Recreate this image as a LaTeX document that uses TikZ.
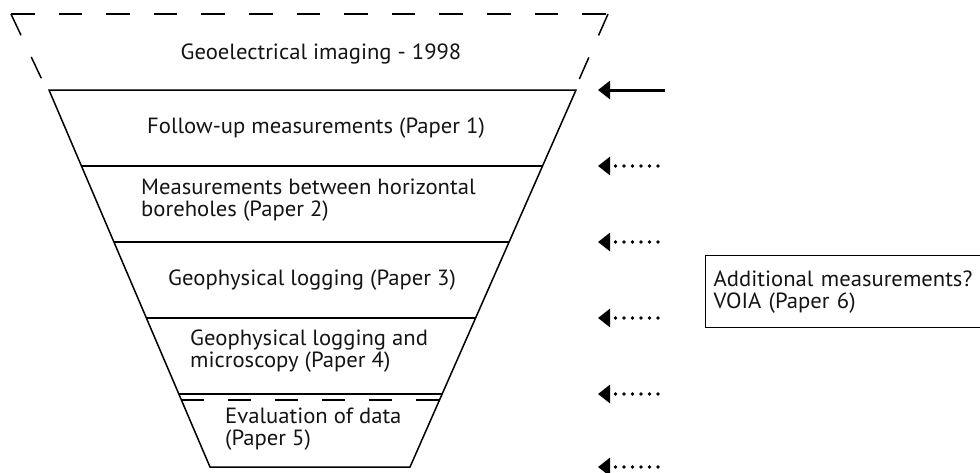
\documentclass[tikz,border=0pt]{standalone}
\usepackage{fontspec}
\setmainfont[FakeStretch=1.03]{PT Sans}
\usetikzlibrary{arrows.meta,calc}
\begin{document}
\begin{tikzpicture}[x=1pt,y=-1pt,
  funnel/.style={line width=1.5pt, draw=black},
  dashedge/.style={line width=1.5pt, draw=black, dash pattern=on 23.5pt off 24pt},
  lbl/.style={inner sep=0pt, font=\fontsize{22}{22.5}\selectfont, align=left, text=black!92},
  solidarrow/.style={line width=3pt, -{Triangle[length=12pt,width=18pt]}},
  dotarrow/.style={line width=3.8pt, line cap=round, dash pattern=on 0pt off 8.5pt, -{Triangle[length=12pt,width=18pt]}},
  framebox/.style={draw=black, line width=1.4pt, inner xsep=8pt, inner ysep=0pt, text width=275pt, align=left, minimum height=72pt, font=\fontsize{22}{22}\selectfont, text=black!92}
]
\useasboundingbox (0,0) rectangle (980,472);
\clip (0,0) rectangle (980,472);

% funnel corners
\coordinate (L0) at (49,90);
\coordinate (R0) at (576,90);
\coordinate (L5) at (210,467);
\coordinate (R5) at (410,467);
\draw[funnel] (L0) -- (R0) -- (R5) -- (L5) -- cycle;
\foreach \t in {0.2016,0.4032,0.6048,0.8064}{
  \draw[funnel] ($(L0)!\t!(L5)$) -- ($(R0)!\t!(R5)$);
}
\draw[funnel, dash pattern=on 23pt off 24pt] ($(L0)!0.8223!(L5)$) -- ($(R0)!0.8223!(R5)$);

% dashed top part
\coordinate (TL) at (11,14);
\coordinate (TR) at (608,14);
\coordinate (TLb) at (44,84);
\coordinate (TRb) at (578,82);
\draw[dashedge, dash pattern=on 23.5pt off 24.1pt] (TL) -- (TR);
\draw[dashedge] (TL) -- (TLb);
\draw[dashedge] (TR) -- (TRb);

% texts (base anchor = baseline of the last line)
\node[lbl, anchor=base] (geo) at (321,59) {Geoelectrical imaging - 1998};
\node[lbl, anchor=base] (p1) at (316,133) {Follow-up measurements (Paper 1)};
\node[lbl, anchor=base west] (p2) at (141,216.5) {Measurements between horizontal\\boreholes (Paper 2)};
\node[lbl, anchor=base west] (p3) at (168,285) {Geophysical logging (Paper 3)};
\node[lbl, anchor=base west] (p4) at (190,367.5) {Geophysical logging and\\microscopy (Paper 4)};
\node[lbl, anchor=base west] (p5) at (225,445.5) {Evaluation of data\\(Paper 5)};

% box
\node[framebox, anchor=north west] (add) at (705,255) {Additional measurements?\\VOIA (Paper 6)};

% arrows
\coordinate (a0t) at (665,90);  \coordinate (a0h) at (598,90);
\draw[solidarrow] (a0t) -- (a0h);
\foreach \y [count=\i] in {166,242,318,394,467}{
  \coordinate (a\i t) at (658,\y);
  \coordinate (a\i h) at (598,\y);
  \draw[dotarrow] (a\i t) -- (a\i h);
}
\end{tikzpicture}
\end{document}
